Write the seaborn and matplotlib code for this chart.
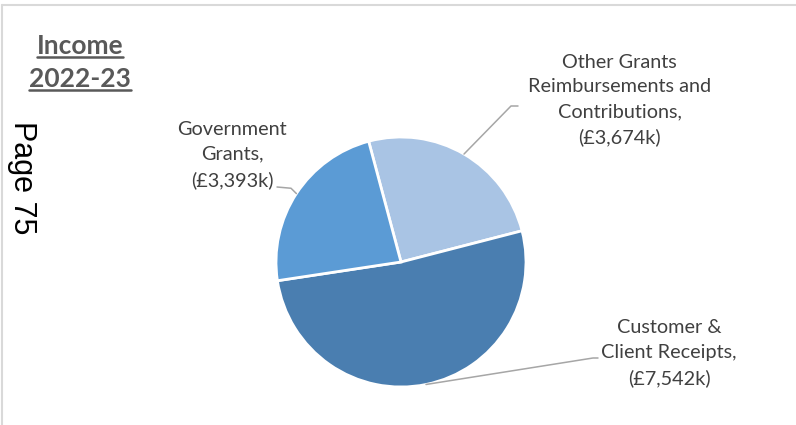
import numpy as np
import matplotlib
matplotlib.use("Agg")
import matplotlib.pyplot as plt
import seaborn as sns
from matplotlib.lines import Line2D

sns.set_style("white")
plt.rcParams['font.family'] = ['Lato', 'DejaVu Sans']

categories = ["Other Grants\nReimbursements and\nContributions,",
              "Customer &\nClient Receipts,",
              "Government\nGrants,"]
values = [3674, 7542, 3393]
value_labels = ["(£3,674k)", "(£7,542k)", "(£3,393k)"]
colors = ["#A9C4E4", "#4A7EB0", "#5B9BD5"]

W, H = 796, 425
fig = plt.figure(figsize=(W / 100, H / 100), dpi=100)
cx, cy, R = 401, 262, 125
half = 150
ax = fig.add_axes([(cx - half) / W, (H - cy - half) / H, 2 * half / W, 2 * half / H])
wedges, _ = ax.pie(values, colors=colors, startangle=105, counterclock=False,
                   radius=1.0, wedgeprops=dict(edgecolor="white", linewidth=2))
ax.set_xlim(-1.2, 1.2)
ax.set_ylim(-1.2, 1.2)
ax.set_aspect("equal")
ax.axis("off")

# label layout (data units; radius = 1)
text_pos = [(1.748, 1.296), (2.144, -0.728), (-1.352, 0.856)]
elbows = [[(0.88, 1.248), (0.936, 1.248)],
          [(1.536, -0.768), (1.576, -0.768)],
          [(-0.88, 0.59), (-0.992, 0.60)]]
txt_color = "#404040"
for w, cat, vl, tp, el in zip(wedges, categories, value_labels, text_pos, elbows):
    mid = np.deg2rad((w.theta1 + w.theta2) / 2)
    p0 = (np.cos(mid), np.sin(mid))
    xs = [p0[0]] + [e[0] for e in el]
    ys = [p0[1]] + [e[1] for e in el]
    ax.add_line(Line2D(xs, ys, color="#A6A6A6", lw=1.1, clip_on=False))
    ax.text(tp[0], tp[1], cat + "\n" + vl, ha="center", va="center",
            fontsize=14.3, color=txt_color, linespacing=1.55, clip_on=False)

# title with underlines
title_lines = [("Income", 46), ("2022-23", 79)]
fig.canvas.draw()
renderer = fig.canvas.get_renderer()
for s, yy in title_lines:
    t = fig.text(80 / W, 1 - yy / H, s, ha="center", va="center", fontsize=19,
                 fontweight="bold", color="#595959")
    bb = t.get_window_extent(renderer=renderer)
    uy = bb.y0 + 1
    fig.add_artist(Line2D([bb.x0 / W, bb.x1 / W], [uy / H, uy / H],
                          transform=fig.transFigure, color="#595959", lw=1.8))

# side page marker
fig.text(22 / W, 1 - 178 / H, "Page 75", rotation=-90, ha="center", va="center",
         fontsize=22, color="black", family=["Liberation Sans", "DejaVu Sans"])

# frame lines (top and left)
fig.add_artist(Line2D([2 / W, 1], [1 - 5 / H, 1 - 5 / H], transform=fig.transFigure,
                      color="#D9D9D9", lw=1.5))
fig.add_artist(Line2D([2 / W, 2 / W], [0, 1 - 5 / H], transform=fig.transFigure,
                      color="#D9D9D9", lw=1.5))

fig.savefig("out.png", dpi=100)
